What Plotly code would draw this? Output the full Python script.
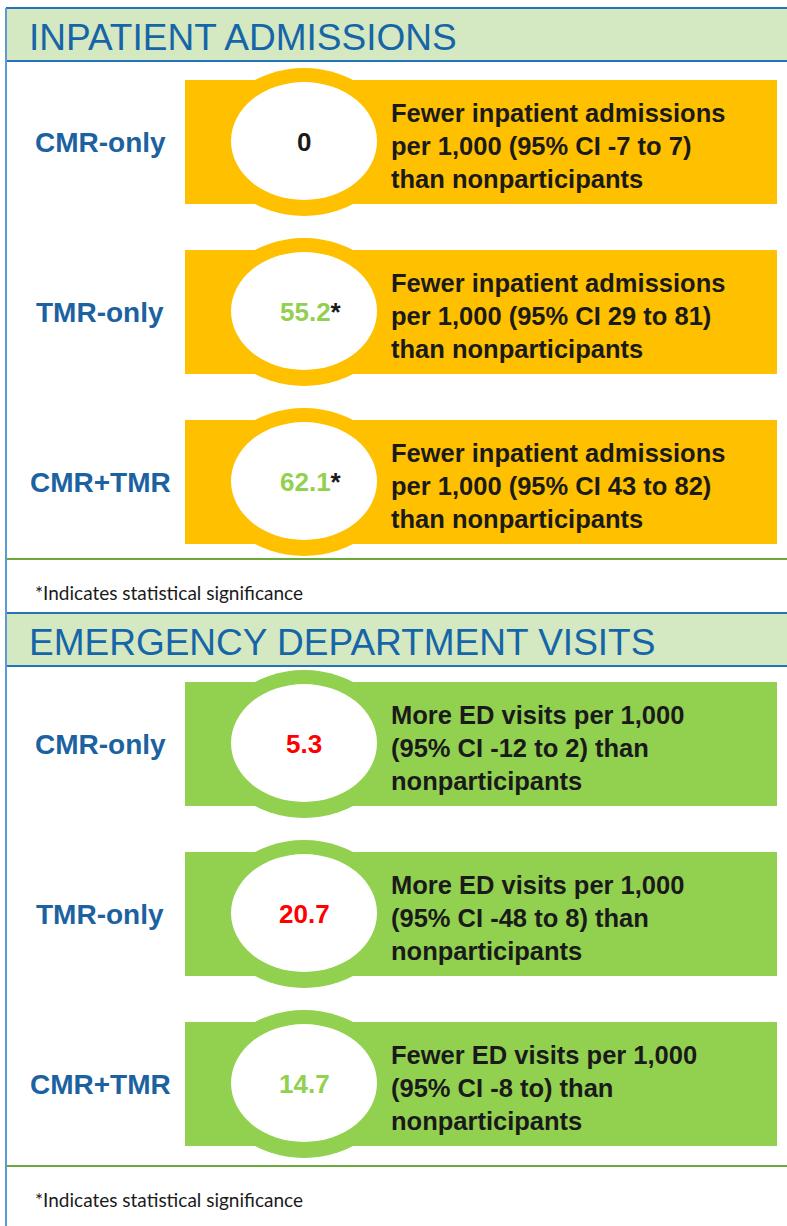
import plotly.graph_objects as go

# ---------------- data ----------------
groups = ["CMR-only", "TMR-only", "CMR+TMR"]
section_titles = ["INPATIENT ADMISSIONS", "EMERGENCY DEPARTMENT VISITS"]

inpatient_values = [0, 55.2, 62.1]
inpatient_direction = ["none", "fewer", "fewer"]
inpatient_significant = [False, True, True]
inpatient_text = [
    "Fewer inpatient admissions<br>per 1,000 (95% CI -7 to 7)<br>than nonparticipants",
    "Fewer inpatient admissions<br>per 1,000 (95% CI 29 to 81)<br>than nonparticipants",
    "Fewer inpatient admissions<br>per 1,000 (95% CI 43 to 82)<br>than nonparticipants",
]

ed_values = [5.3, 20.7, 14.7]
ed_direction = ["more", "more", "fewer"]
ed_significant = [False, False, False]
ed_text = [
    "More ED visits per 1,000<br>(95% CI -12 to 2) than<br>nonparticipants",
    "More ED visits per 1,000<br>(95% CI -48 to 8) than<br>nonparticipants",
    "Fewer ED visits per 1,000<br>(95% CI -8 to) than<br>nonparticipants",
]

footnote = "*Indicates statistical significance"

# ---------------- styles ----------------
W, H = 787, 1226
YELLOW = "#FFC000"
GREEN = "#92D050"
HEADER_BG = "#D4E8C2"
HEADER_BLUE = "#1565A8"
LABEL_BLUE = "#1C62A0"
BORDER_BLUE = "#2472B8"
LEFT_BLUE = "#5B9BD0"
LINE_GREEN = "#6BAA3A"
TEXT_DARK = "#1A1A1A"
SANS = "Liberation Sans"
dir_colors = {"none": TEXT_DARK, "fewer": GREEN, "more": "#FF0000"}

sections = [
    dict(title=section_titles[0], values=inpatient_values, direction=inpatient_direction,
         sig=inpatient_significant, text=inpatient_text, fill=YELLOW,
         header_top=8, header_bot=61, row_top=80, sep=559, note_y=592),
    dict(title=section_titles[1], values=ed_values, direction=ed_direction,
         sig=ed_significant, text=ed_text, fill=GREEN,
         header_top=613, header_bot=666, row_top=682, sep=1166, note_y=1199),
]

ROW_PITCH = 170
RECT_H = 124
RECT_X0, RECT_X1 = 185, 777
CX = 304
OUT_A, OUT_B = 90, 74
IN_A, IN_B = 73, 59

fig = go.Figure()
shapes = []
annotations = []

for s in sections:
    shapes.append(dict(type="rect", x0=6, x1=W, y0=s["header_top"], y1=s["header_bot"],
                       fillcolor=HEADER_BG, line=dict(width=0), layer="below"))
    shapes.append(dict(type="line", x0=6, x1=W, y0=s["header_top"], y1=s["header_top"],
                       line=dict(color=BORDER_BLUE, width=2)))
    shapes.append(dict(type="line", x0=6, x1=W, y0=s["header_bot"], y1=s["header_bot"],
                       line=dict(color=BORDER_BLUE, width=2)))
    annotations.append(dict(x=27, y=(s["header_top"] + s["header_bot"]) / 2 + 3,
                            text=s["title"], showarrow=False, xanchor="left", yanchor="middle",
                            font=dict(family=SANS, size=37, color=HEADER_BLUE)))
    shapes.append(dict(type="line", x0=6, x1=W, y0=s["sep"], y1=s["sep"],
                       line=dict(color=LINE_GREEN, width=2)))
    annotations.append(dict(x=33, y=s["note_y"], text=footnote, showarrow=False,
                            xanchor="left", yanchor="middle",
                            font=dict(family="Lato", size=19, color=TEXT_DARK)))
    for i, g in enumerate(groups):
        top = s["row_top"] + i * ROW_PITCH
        bot = top + RECT_H
        cy = (top + bot) / 2
        shapes.append(dict(type="rect", x0=RECT_X0, x1=RECT_X1, y0=top, y1=bot,
                           fillcolor=s["fill"], line=dict(width=0), layer="below"))
        shapes.append(dict(type="circle", x0=CX - OUT_A, x1=CX + OUT_A, y0=cy - OUT_B, y1=cy + OUT_B,
                           fillcolor=s["fill"], line=dict(width=0), layer="below"))
        shapes.append(dict(type="circle", x0=CX - IN_A, x1=CX + IN_A, y0=cy - 1 - IN_B, y1=cy - 1 + IN_B,
                           fillcolor="white", line=dict(width=0), layer="below"))
        annotations.append(dict(x=100, y=cy, text=f"<b>{g}</b>", showarrow=False,
                                xanchor="center", yanchor="middle",
                                font=dict(family=SANS, size=28, color=LABEL_BLUE)))
        v = s["values"][i]
        vtxt = "0" if v == 0 else f"{v:.1f}"
        col = dir_colors[s["direction"][i]]
        txt = f"<b>{vtxt}</b>"
        xs = 0
        if s["sig"][i]:
            txt += f"<span style='color:{TEXT_DARK}'><b>*</b></span>"
            xs = 7
        annotations.append(dict(x=CX, y=cy, text=txt, showarrow=False, xshift=xs,
                                xanchor="center", yanchor="middle",
                                font=dict(family=SANS, size=26, color=col)))
        annotations.append(dict(x=389, y=cy + 4, text=f"<b>{s['text'][i]}</b>", showarrow=False,
                                xanchor="left", yanchor="middle", align="left",
                                font=dict(family=SANS, size=25.5, color=TEXT_DARK)))

shapes.append(dict(type="line", x0=6, x1=6, y0=8, y1=H,
                   line=dict(color=LEFT_BLUE, width=2)))

fig.update_layout(
    width=W, height=H,
    margin=dict(l=0, r=0, t=0, b=0),
    paper_bgcolor="white", plot_bgcolor="white",
    xaxis=dict(range=[0, W], visible=False, fixedrange=True),
    yaxis=dict(range=[H, 0], visible=False, fixedrange=True),
    shapes=shapes, annotations=annotations,
    showlegend=False,
)

fig.write_html("out.html", config={"displayModeBar": False},
               post_script="document.body.style.margin='0';document.body.style.overflow='hidden';")
